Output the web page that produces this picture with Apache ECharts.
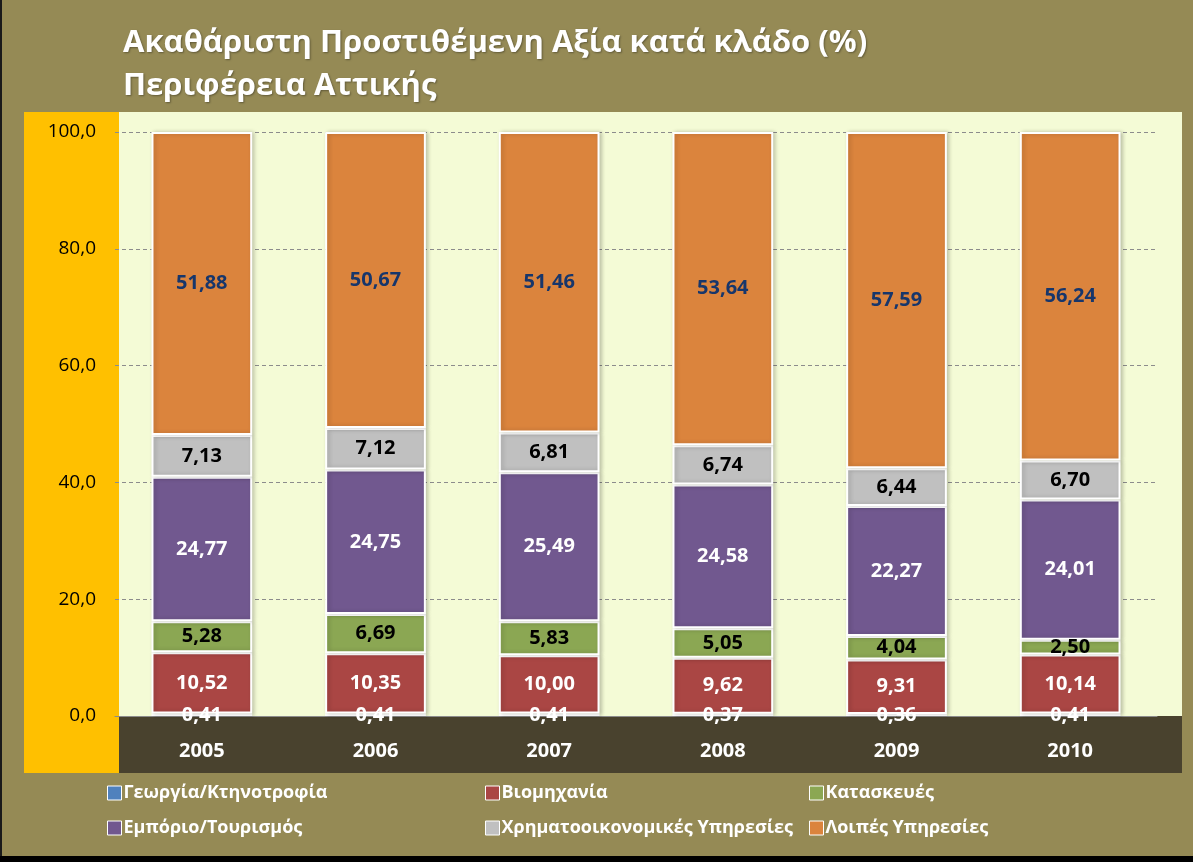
<!DOCTYPE html>
<html>
<head>
<meta charset="utf-8">
<script src="https://cdn.jsdelivr.net/npm/echarts@6/dist/echarts.min.js"></script>
<style>
  html, body { margin: 0; padding: 0; background: #000; }
  #chart { width: 1193px; height: 862px; }
</style>
</head>
<body>
<div id="chart"></div>
<script>
const years = ['2005', '2006', '2007', '2008', '2009', '2010'];
const yTicks = [0, 20, 40, 60, 80, 100];

const georgia = [0.41, 0.41, 0.41, 0.37, 0.36, 0.41];
const viomichania = [10.52, 10.35, 10.00, 9.62, 9.31, 10.14];
const kataskeves = [5.28, 6.69, 5.83, 5.05, 4.04, 2.50];
const emporio = [24.77, 24.75, 25.49, 24.58, 22.27, 24.01];
const xrimatooik = [7.13, 7.12, 6.81, 6.74, 6.44, 6.70];
const loipes = [51.88, 50.67, 51.46, 53.64, 57.59, 56.24];

const names = [
    'Γεωργία/Κτηνοτροφία',
    'Βιομηχανία',
    'Κατασκευές',
    'Εμπόριο/Τουρισμός',
    'Χρηματοοικονομικές Υπηρεσίες',
    'Λοιπές Υπηρεσίες'
];

const FONT = '"Open Sans", "Noto Sans", sans-serif';
const myChart = echarts.init(document.getElementById('chart'));

function fmt(v) {
    return v.toFixed(2).replace('.', ',');
}

function makeSeries(name, data, color, labelColor) {
    return {
        name: name,
        type: 'bar',
        stack: 'total',
        barWidth: '58%',
        data: data,
        itemStyle: {
            color: color,
            borderColor: '#ffffff',
            borderWidth: 2,
            shadowBlur: 4,
            shadowOffsetX: 2,
            shadowColor: 'rgba(0,0,0,0.2)'
        },
        label: {
            show: true,
            position: 'inside',
            color: labelColor,
            fontFamily: FONT,
            fontWeight: 'bold',
            fontSize: 20,
            formatter: p => fmt(p.value)
        }
    };
}

const legendBase = {
    orient: 'vertical',
    itemWidth: 14,
    itemHeight: 14,
    itemGap: 17,
    icon: 'rect',
    itemStyle: { borderColor: '#ffffff', borderWidth: 1 },
    textStyle: { color: '#ffffff', fontFamily: FONT, fontWeight: 'bold', fontSize: 18, padding: [0, 0, 0, -3] },
    top: 779
};

const option = {
    backgroundColor: '#958a55',
    animation: false,
    title: {
        text: 'Ακαθάριστη Προστιθέμενη Αξία κατά κλάδο (%)\nΠεριφέρεια Αττικής',
        left: 118,
        top: 17,
        textStyle: {
            color: '#ffffff',
            fontFamily: FONT,
            fontWeight: 'bold',
            fontSize: 31,
            lineHeight: 43,
            textShadowColor: 'rgba(0,0,0,0.35)',
            textShadowBlur: 2,
            textShadowOffsetX: 1,
            textShadowOffsetY: 1
        }
    },
    graphic: [
        { type: 'rect', left: 0, top: 0, z: -10, shape: { width: 2, height: 862 }, style: { fill: '#1a1a1a' } },
        { type: 'rect', left: 0, top: 856, z: -10, shape: { width: 1193, height: 6 }, style: { fill: '#000000' } },
        { type: 'rect', left: 24, top: 112, z: -10, shape: { width: 95, height: 661 }, style: { fill: '#ffc000' } },
        { type: 'rect', left: 119, top: 112, z: -10, shape: { width: 1063, height: 604 }, style: { fill: '#f4fbd6' } },
        { type: 'rect', left: 119, top: 716, z: -10, shape: { width: 1063, height: 57 }, style: { fill: '#49422e' } }
    ],
    legend: [
        Object.assign({}, legendBase, { left: 102, data: [names[0], names[3]] }),
        Object.assign({}, legendBase, { left: 480, data: [names[1], names[4]] }),
        Object.assign({}, legendBase, { left: 804, data: [names[2], names[5]] })
    ],
    grid: {
        left: 115,
        right: 36,
        top: 132,
        bottom: 146
    },
    xAxis: {
        type: 'category',
        data: years,
        axisLine: { show: true, lineStyle: { color: '#8c8c8c', width: 1 } },
        axisTick: { show: false },
        axisLabel: {
            color: '#ffffff',
            fontFamily: FONT,
            fontWeight: 'bold',
            fontSize: 20,
            margin: 25
        }
    },
    yAxis: {
        type: 'value',
        min: yTicks[0],
        max: yTicks[yTicks.length - 1],
        interval: 20,
        axisLine: { show: false },
        axisTick: { show: false },
        splitLine: { lineStyle: { color: '#8c8c8c', type: [4, 3], width: 1 } },
        axisLabel: {
            color: '#000000',
            fontFamily: FONT,
            fontSize: 19,
            margin: 19,
            formatter: v => v.toFixed(1).replace('.', ',')
        }
    },
    series: [
        makeSeries(names[0], georgia, '#4f81bd', '#ffffff'),
        makeSeries(names[1], viomichania, '#aa4644', '#ffffff'),
        makeSeries(names[2], kataskeves, '#8ba753', '#000000'),
        makeSeries(names[3], emporio, '#71588f', '#ffffff'),
        makeSeries(names[4], xrimatooik, '#c0c0c0', '#000000'),
        makeSeries(names[5], loipes, '#db843d', '#17366b')
    ]
};

myChart.setOption(option);
window.addEventListener('resize', () => {
    myChart.resize();
});
</script>
</body>
</html>
